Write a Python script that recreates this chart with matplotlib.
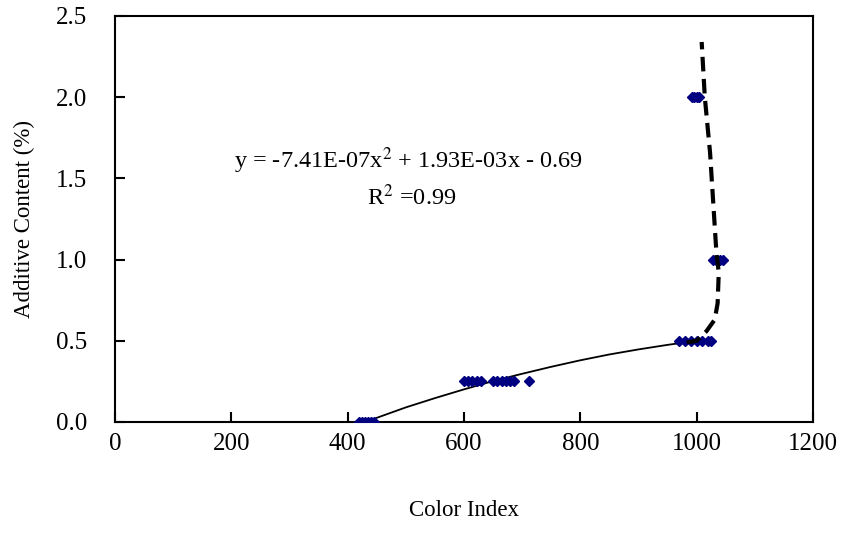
import matplotlib
matplotlib.use("Agg")
import matplotlib.pyplot as plt

plt.rcParams['font.family'] = ['Liberation Serif', 'DejaVu Serif']
plt.rcParams['mathtext.fontset'] = 'stix'

# measured points (color index vs additive content)
x0 = [420, 425, 430, 435, 440, 445]
x25 = [600, 607, 614, 622, 629, 650, 657, 665, 672, 679, 686, 712]
x50 = [970, 980, 990, 1000, 1010, 1020, 1025]
x100 = [1028, 1034, 1040, 1045]
x200 = [992, 996, 1000, 1004]

# polynomial trendline
trend_x = [430, 500, 550, 600, 650, 700, 750, 800, 850, 900, 950, 990]
trend_y = [0.00, 0.09, 0.147, 0.201, 0.252, 0.297, 0.340, 0.380, 0.416, 0.447, 0.475, 0.495]

# dashed guide curve
dash_x = [983, 1000, 1017, 1031, 1036, 1038, 1034, 1028.5, 1023, 1014, 1008.6]
dash_y = [0.49, 0.50, 0.56, 0.63, 0.73, 0.92, 1.04, 1.35, 1.66, 2.00, 2.34]

fig = plt.figure(figsize=(8.46, 5.37), dpi=100)
ax = fig.add_axes([115/846, 1 - 422/537, (813-115)/846, (422-16)/537])

navy = '#000080'
for xs, yv in [(x0, 0.0), (x25, 0.25), (x50, 0.5), (x100, 1.0), (x200, 2.0)]:
    ax.plot(xs, [yv]*len(xs), 'D', color=navy, ms=5.5, mec=navy, zorder=3)

ax.plot(trend_x, trend_y, '-', color='black', lw=1.3, zorder=2)
ax.plot(dash_x, dash_y, '--', color='black', lw=3, dashes=(3.5, 1.8), zorder=4)

ax.set_xlim(0, 1200)
ax.set_ylim(0, 2.5)
ax.set_xticks([0, 200, 400, 600, 800, 1000, 1200])
ax.set_yticks([0.0, 0.5, 1.0, 1.5, 2.0, 2.5])
ax.set_yticklabels(['0.0', '0.5', '1.0', '1.5', '2.0', '2.5'])
ax.tick_params(axis='both', direction='in', length=7, width=1.5, labelsize=18)
ax.tick_params(axis='x', pad=8)
ax.tick_params(axis='y', pad=20)
for s in ax.spines.values():
    s.set_linewidth(1.5)

ax.set_xlabel('Color Index', fontsize=16.5, labelpad=32)
ax.set_ylabel('Additive Content (%)', fontsize=16.5, labelpad=15)

ax.text(505, 1.61, 'y = -7.41E-07x$^{2}$ + 1.93E-03x - 0.69', fontsize=17.5,
        ha='center', va='center')
ax.text(510, 1.385, 'R$^{2}$ =0.99', fontsize=17.5, ha='center', va='center')

fig.savefig('out.png', dpi=100)
